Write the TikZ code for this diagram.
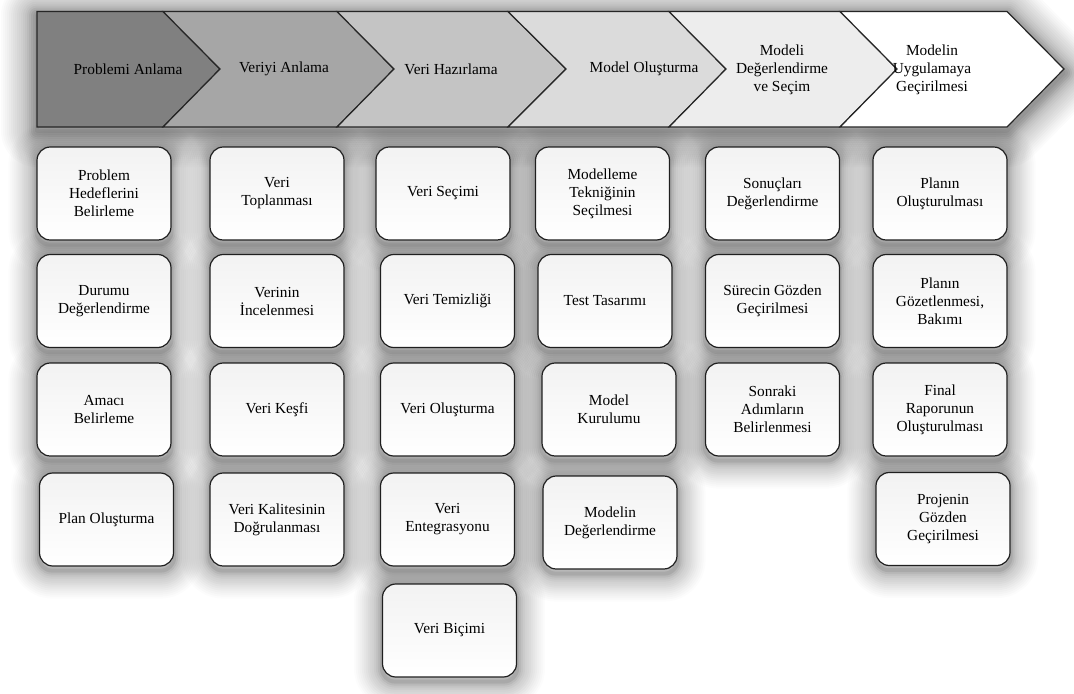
\documentclass[tikz,border=0pt]{standalone}
\usepackage{fontspec}
\setmainfont{Liberation Serif}
\usetikzlibrary{backgrounds}

% soft halo under a box node: stacked translucent outlines of growing width,
% the wider ones fainter so the halo fades smoothly
\newcommand\boxhaze[1]{%
  \foreach \e [evaluate=\e as \op using 0.09/(1+\e/2.5)] in {1,...,14}{%
    \draw[haze, draw opacity=\op, rounded corners=10pt, line width=3*\e pt]
      ([yshift=-3pt]#1.south west) rectangle ([yshift=-3pt]#1.north east);}}

\begin{document}
\begin{tikzpicture}[x=0.75pt,y=-0.75pt,
  haze/.style={draw=black, line join=round},
  stepbox/.style={draw=black!88, line width=0.9pt, rounded corners=10pt,
      minimum width=100.5pt, minimum height=69.75pt, inner sep=0pt,
      align=center, font=\fontsize{11.5}{13.5}\selectfont,
      top color=black!5, bottom color=white},
  phase/.style={draw=black!85, line width=0.9pt, line join=miter},
  phaselabel/.style={align=center, font=\fontsize{11.5}{13.5}\selectfont}
]
\useasboundingbox (0,0) rectangle (1074,693);

% banner geometry: top, middle and bottom rows, notch and tip abscissae
\def\bt{11.5}\def\bm{69}\def\bb{127}
\def\nA{163}\def\nB{337}\def\nC{508}\def\nD{669}\def\nE{840}\def\nF{1007}
\def\tA{220}\def\tB{394}\def\tC{566}\def\tD{726}\def\tE{897}\def\tF{1064}

% chevrons, darkest first
\path[phase, fill=black!50] (37,\bt) -- (\nA,\bt) -- (\tA,\bm) -- (\nA,\bb) -- (37,\bb) -- cycle;
\path[phase, fill=black!35] (\nA,\bt) -- (\nB,\bt) -- (\tB,\bm) -- (\nB,\bb) -- (\nA,\bb) -- (\tA,\bm) -- cycle;
\path[phase, fill=black!23] (\nB,\bt) -- (\nC,\bt) -- (\tC,\bm) -- (\nC,\bb) -- (\nB,\bb) -- (\tB,\bm) -- cycle;
\path[phase, fill=black!14] (\nC,\bt) -- (\nD,\bt) -- (\tD,\bm) -- (\nD,\bb) -- (\nC,\bb) -- (\tC,\bm) -- cycle;
\path[phase, fill=black!7]  (\nD,\bt) -- (\nE,\bt) -- (\tE,\bm) -- (\nE,\bb) -- (\nD,\bb) -- (\tD,\bm) -- cycle;
\path[phase, fill=white]    (\nE,\bt) -- (\nF,\bt) -- (\tF,\bm) -- (\nF,\bb) -- (\nE,\bb) -- (\tE,\bm) -- cycle;

% phase titles
\node[phaselabel] (h1) at (128,69) {Problemi Anlama};
\node[phaselabel] (h2) at (284,69) {Veriyi Anlama};
\node[phaselabel] (h3) at (451,69) {Veri Hazırlama};
\node[phaselabel] (h4) at (644,69) {Model Oluşturma};
\node[phaselabel] (h5) at (782,70) {Modeli\\Değerlendirme\\ve Seçim};
\node[phaselabel] (h6) at (932,70) {Modelin\\Uygulamaya\\Geçirilmesi};

% column 1
\node[stepbox] (a1) at (104,193.5) {Problem\\Hedeflerini\\Belirleme};
\node[stepbox] (a2) at (104,301) {Durumu\\Değerlendirme};
\node[stepbox] (a3) at (104,409.5) {Amacı\\Belirleme};
\node[stepbox] (a4) at (106.5,519.5) {Plan Oluşturma};

% column 2
\node[stepbox] (b1) at (277,193.5) {Veri\\Toplanması};
\node[stepbox] (b2) at (277,301) {Verinin\\İncelenmesi};
\node[stepbox] (b3) at (277,409.5) {Veri Keşfi};
\node[stepbox] (b4) at (277,519.5) {Veri Kalitesinin\\Doğrulanması};

% column 3
\node[stepbox] (c1) at (443,193.5) {Veri Seçimi};
\node[stepbox] (c2) at (447.5,301) {Veri Temizliği};
\node[stepbox] (c3) at (447.5,409.5) {Veri Oluşturma};
\node[stepbox] (c4) at (447.5,519.5) {Veri\\Entegrasyonu};
\node[stepbox] (c5) at (449.5,630.5) {Veri Biçimi};

% column 4
\node[stepbox] (d1) at (602.5,193.5) {Modelleme\\Tekniğinin\\Seçilmesi};
\node[stepbox] (d2) at (605,301) {Test Tasarımı};
\node[stepbox] (d3) at (609,409.5) {Model\\Kurulumu};
\node[stepbox] (d4) at (610,522.5) {Modelin\\Değerlendirme};

% column 5
\node[stepbox] (e1) at (772.5,193.5) {Sonuçları\\Değerlendirme};
\node[stepbox] (e2) at (772.5,301) {Sürecin Gözden\\Geçirilmesi};
\node[stepbox] (e3) at (772.5,409.5) {Sonraki\\Adımların\\Belirlenmesi};

% column 6
\node[stepbox] (f1) at (940,193.5) {Planın\\Oluşturulması};
\node[stepbox] (f2) at (940,301) {Planın\\Gözetlenmesi,\\Bakımı};
\node[stepbox] (f3) at (940,409.5) {Final\\Raporunun\\Oluşturulması};
\node[stepbox] (f4) at (943,519) {Projenin\\Gözden\\Geçirilmesi};

% soft shadows behind the banner and every box
\begin{scope}[on background layer]
  \foreach \e [evaluate=\e as \op using 0.1/(1+\e/3)] in {1,...,18}{%
    \draw[haze, draw opacity=\op, line width=3*\e pt, yshift=-3pt]
      (37,\bt) -- (\nF,\bt) -- (\tF,\bm) -- (\nF,\bb) -- (37,\bb) -- cycle;}
  \foreach \n in {a1,a2,a3,a4,b1,b2,b3,b4,c1,c2,c3,c4,c5,d1,d2,d3,d4,e1,e2,e3,f1,f2,f3,f4}{%
    \boxhaze{\n}}
\end{scope}
\end{tikzpicture}
\end{document}
